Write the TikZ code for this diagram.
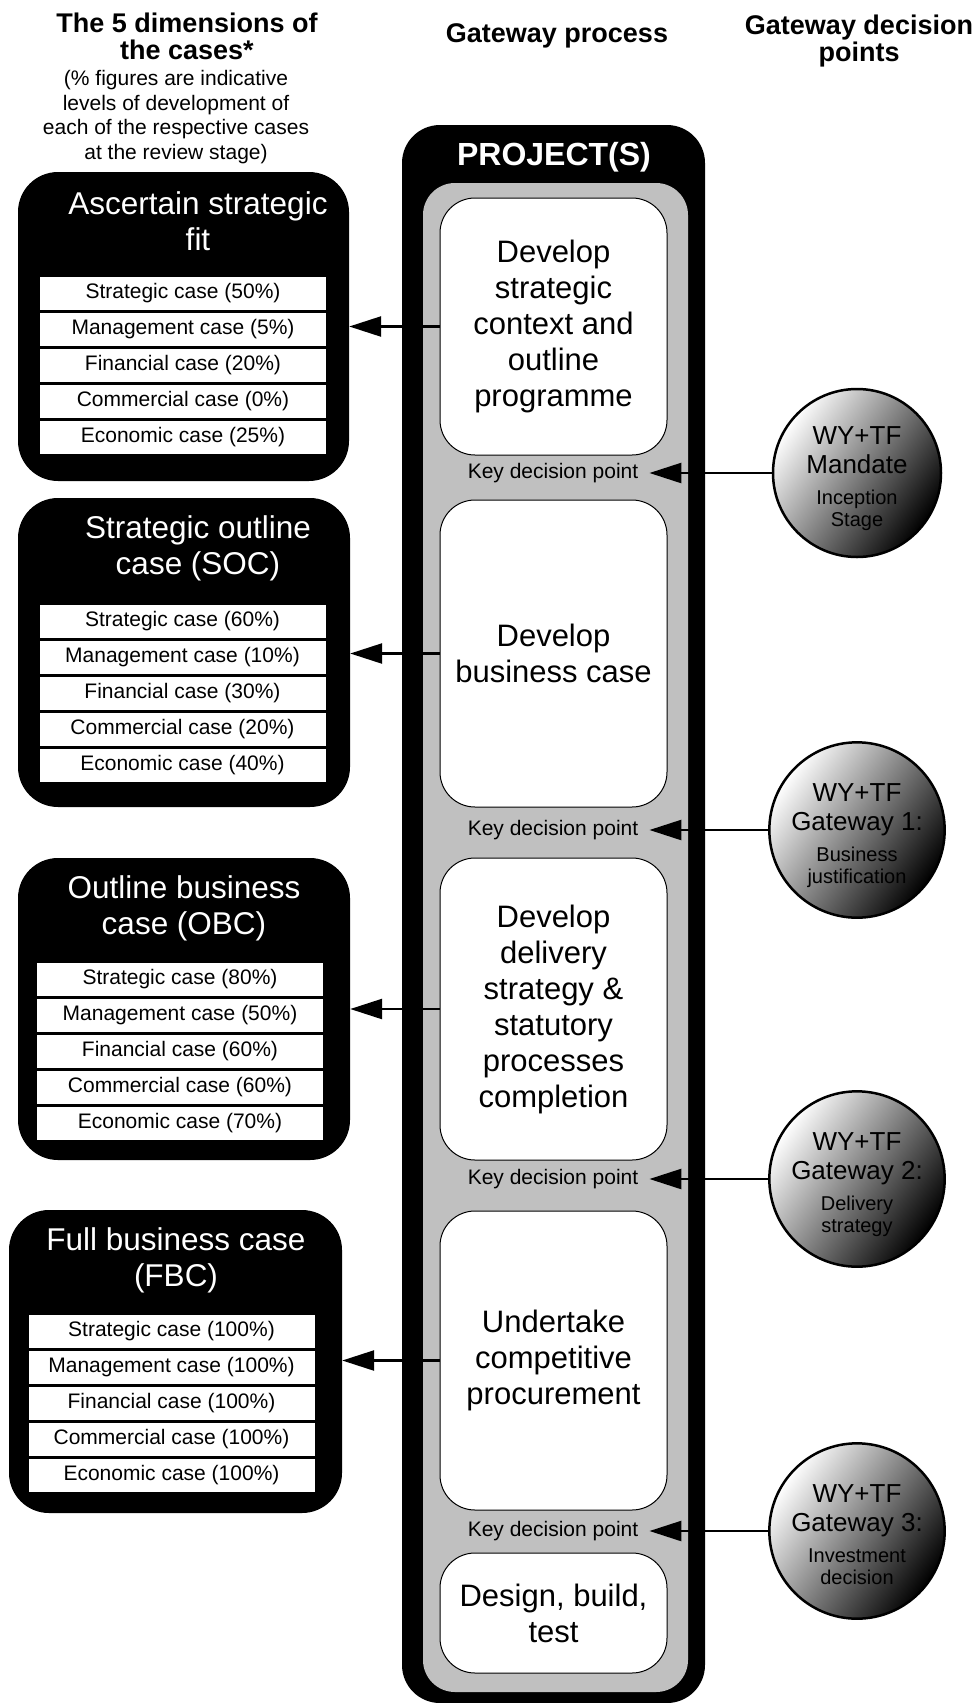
\documentclass[tikz,border=0pt]{standalone}
\usepackage{fontspec}
\setmainfont{Liberation Sans}
\usetikzlibrary{arrows.meta}
\definecolor{panelgray}{RGB}{192,192,192}
\begin{document}
\begin{tikzpicture}[x=1pt,y=-1pt,head node/.style={font=\fontsize{27}{27}\selectfont\bfseries, align=center, inner sep=0pt},note node/.style={font=\fontsize{21}{24.5}\selectfont, align=center, inner sep=0pt},case box/.style={fill=black, rounded corners=40pt, inner sep=0pt},case title/.style={font=\fontsize{31.5}{36}\selectfont, text=white, align=center, inner sep=0pt},row node/.style={fill=white, minimum width=286pt, minimum height=33pt, inner sep=0pt, font=\fontsize{21}{24}\selectfont},step node/.style={draw, fill=white, line width=1pt, rounded corners=35pt, minimum width=227pt, inner sep=0pt, font=\fontsize{31}{36}\selectfont, align=center},key node/.style={font=\fontsize{21}{24}\selectfont, inner xsep=11pt, inner ysep=0pt},gate node/.style={circle, draw, line width=2.5pt, minimum size=168pt, inner sep=0pt, top color=white, middle color=gray!12, bottom color=black, shading angle=55, font=\fontsize{26}{29}\selectfont, align=center},link/.style={line width=2.5pt, -{Triangle[length=32pt,width=20pt]}}]%
\node[head node] (hcases) at (187,36.5) {The 5 dimensions of\\the cases*};%
\node[note node] (hnote) at (176,117) {(\% figures are indicative\\levels of development of\\each of the respective cases\\at the review stage)};%
\node[head node] (hproc) at (557,36) {Gateway process};%
\node[head node] (hgate) at (859,41.5) {Gateway decision\\points};%
  % Project column%
\path[fill=black, rounded corners=38pt] (402,125) rectangle (705,1703);%
\path[fill=panelgray, rounded corners=32pt] (423,183) rectangle (688,1692);%
\node[font=\fontsize{32}{36}\selectfont\bfseries, text=white] (proj) at (554,157) {PROJECT(S)};%
\node[step node, minimum height=257pt] (s1) at (553.5,326.5) {Develop\\strategic\\context and\\outline\\programme};%
\node[step node, minimum height=307pt] (s2) at (553.5,653.5) {Develop\\business case};%
\node[step node, minimum height=302pt] (s3) at (553.5,1009) {Develop\\delivery\\strategy \&\\statutory\\processes\\completion};%
\node[step node, minimum height=299pt] (s4) at (553.5,1360.5) {Undertake\\competitive\\procurement};%
\node[step node, minimum height=120pt] (s5) at (553.5,1613) {Design, build,\\test};%
\node[key node] (k1) at (553,473) {Key decision point};%
\node[key node] (k2) at (553,830) {Key decision point};%
\node[key node] (k3) at (553,1179) {Key decision point};%
\node[key node] (k4) at (553,1531) {Key decision point};%
  % Case 1%
\node[case box, minimum width=331pt, minimum height=309pt] (caseA) at (183.5,326.5) {};%
\node[case title] (tA) at (198,221) {Ascertain strategic\\fit};%
\node[row node] (a1) at (183,293.5) {Strategic case (50\%)};%
\node[row node] (a2) at (183,329.5) {Management case (5\%)};%
\node[row node] (a3) at (183,365.5) {Financial case (20\%)};%
\node[row node] (a4) at (183,401.5) {Commercial case (0\%)};%
\node[row node] (a5) at (183,437.5) {Economic case (25\%)};%
  % Case 2%
\node[case box, minimum width=332pt, minimum height=309pt] (caseB) at (184,652.5) {};%
\node[case title] (tB) at (198,548) {Strategic outline\\case (SOC)};%
\node[row node] (b1) at (182.5,621.5) {Strategic case (60\%)};%
\node[row node] (b2) at (182.5,657.5) {Management case (10\%)};%
\node[row node] (b3) at (182.5,693.5) {Financial case (30\%)};%
\node[row node] (b4) at (182.5,729.5) {Commercial case (20\%)};%
\node[row node] (b5) at (182.5,765.5) {Economic case (40\%)};%
  % Case 3%
\node[case box, minimum width=332pt, minimum height=302pt] (caseC) at (184,1009) {};%
\node[case title] (tC) at (184,908) {Outline business\\case (OBC)};%
\node[row node] (c1) at (180,979.5) {Strategic case (80\%)};%
\node[row node] (c2) at (180,1015.5) {Management case (50\%)};%
\node[row node] (c3) at (180,1051.5) {Financial case (60\%)};%
\node[row node] (c4) at (180,1087.5) {Commercial case (60\%)};%
\node[row node] (c5) at (180,1123.5) {Economic case (70\%)};%
  % Case 4%
\node[case box, minimum width=333pt, minimum height=303pt] (caseD) at (175.5,1361.5) {};%
\node[case title] (tD) at (176,1260) {Full business case\\(FBC)};%
\node[row node] (d1) at (171.5,1331.5) {Strategic case (100\%)};%
\node[row node] (d2) at (171.5,1367.5) {Management case (100\%)};%
\node[row node] (d3) at (171.5,1403.5) {Financial case (100\%)};%
\node[row node] (d4) at (171.5,1439.5) {Commercial case (100\%)};%
\node[row node] (d5) at (171.5,1475.5) {Economic case (100\%)};%
  % Gateways%
\node[gate node] (g1) at (857,473) {\rule{0pt}{29pt}WY+TF\\Mandate\\[2pt]{\fontsize{20}{23}\selectfont Inception}\\[-7pt]{\fontsize{20}{23}\selectfont Stage}\rule[-5pt]{0pt}{5pt}};%
\node[gate node] (g2) at (857,830) {\rule{0pt}{29pt}WY+TF\\Gateway 1:\\[2pt]{\fontsize{20}{23}\selectfont Business}\\[-7pt]{\fontsize{20}{23}\selectfont justification}\rule[-5pt]{0pt}{5pt}};%
\node[gate node] (g3) at (857,1179) {\rule{0pt}{29pt}WY+TF\\Gateway 2:\\[2pt]{\fontsize{20}{23}\selectfont Delivery}\\[-7pt]{\fontsize{20}{23}\selectfont strategy}\rule[-5pt]{0pt}{5pt}};%
\node[gate node] (g4) at (857,1531) {\rule{0pt}{29pt}WY+TF\\Gateway 3:\\[2pt]{\fontsize{20}{23}\selectfont Investment}\\[-7pt]{\fontsize{20}{23}\selectfont decision}\rule[-5pt]{0pt}{5pt}};%
\draw[link] (s1.west) -- (caseA.east |- s1.west);%
\draw[link] (s2.west) -- (caseB.east |- s2.west);%
\draw[link] (s3.west) -- (caseC.east |- s3.west);%
\draw[link] (s4.west) -- (caseD.east |- s4.west);%
\draw[link] (g1.west) -- (k1.east);%
\draw[link] (g2.west) -- (k2.east);%
\draw[link] (g3.west) -- (k3.east);%
\draw[link] (g4.west) -- (k4.east);%
\path[use as bounding box] (0,0) rectangle (972,1703);%
\end{tikzpicture}
\end{document}
